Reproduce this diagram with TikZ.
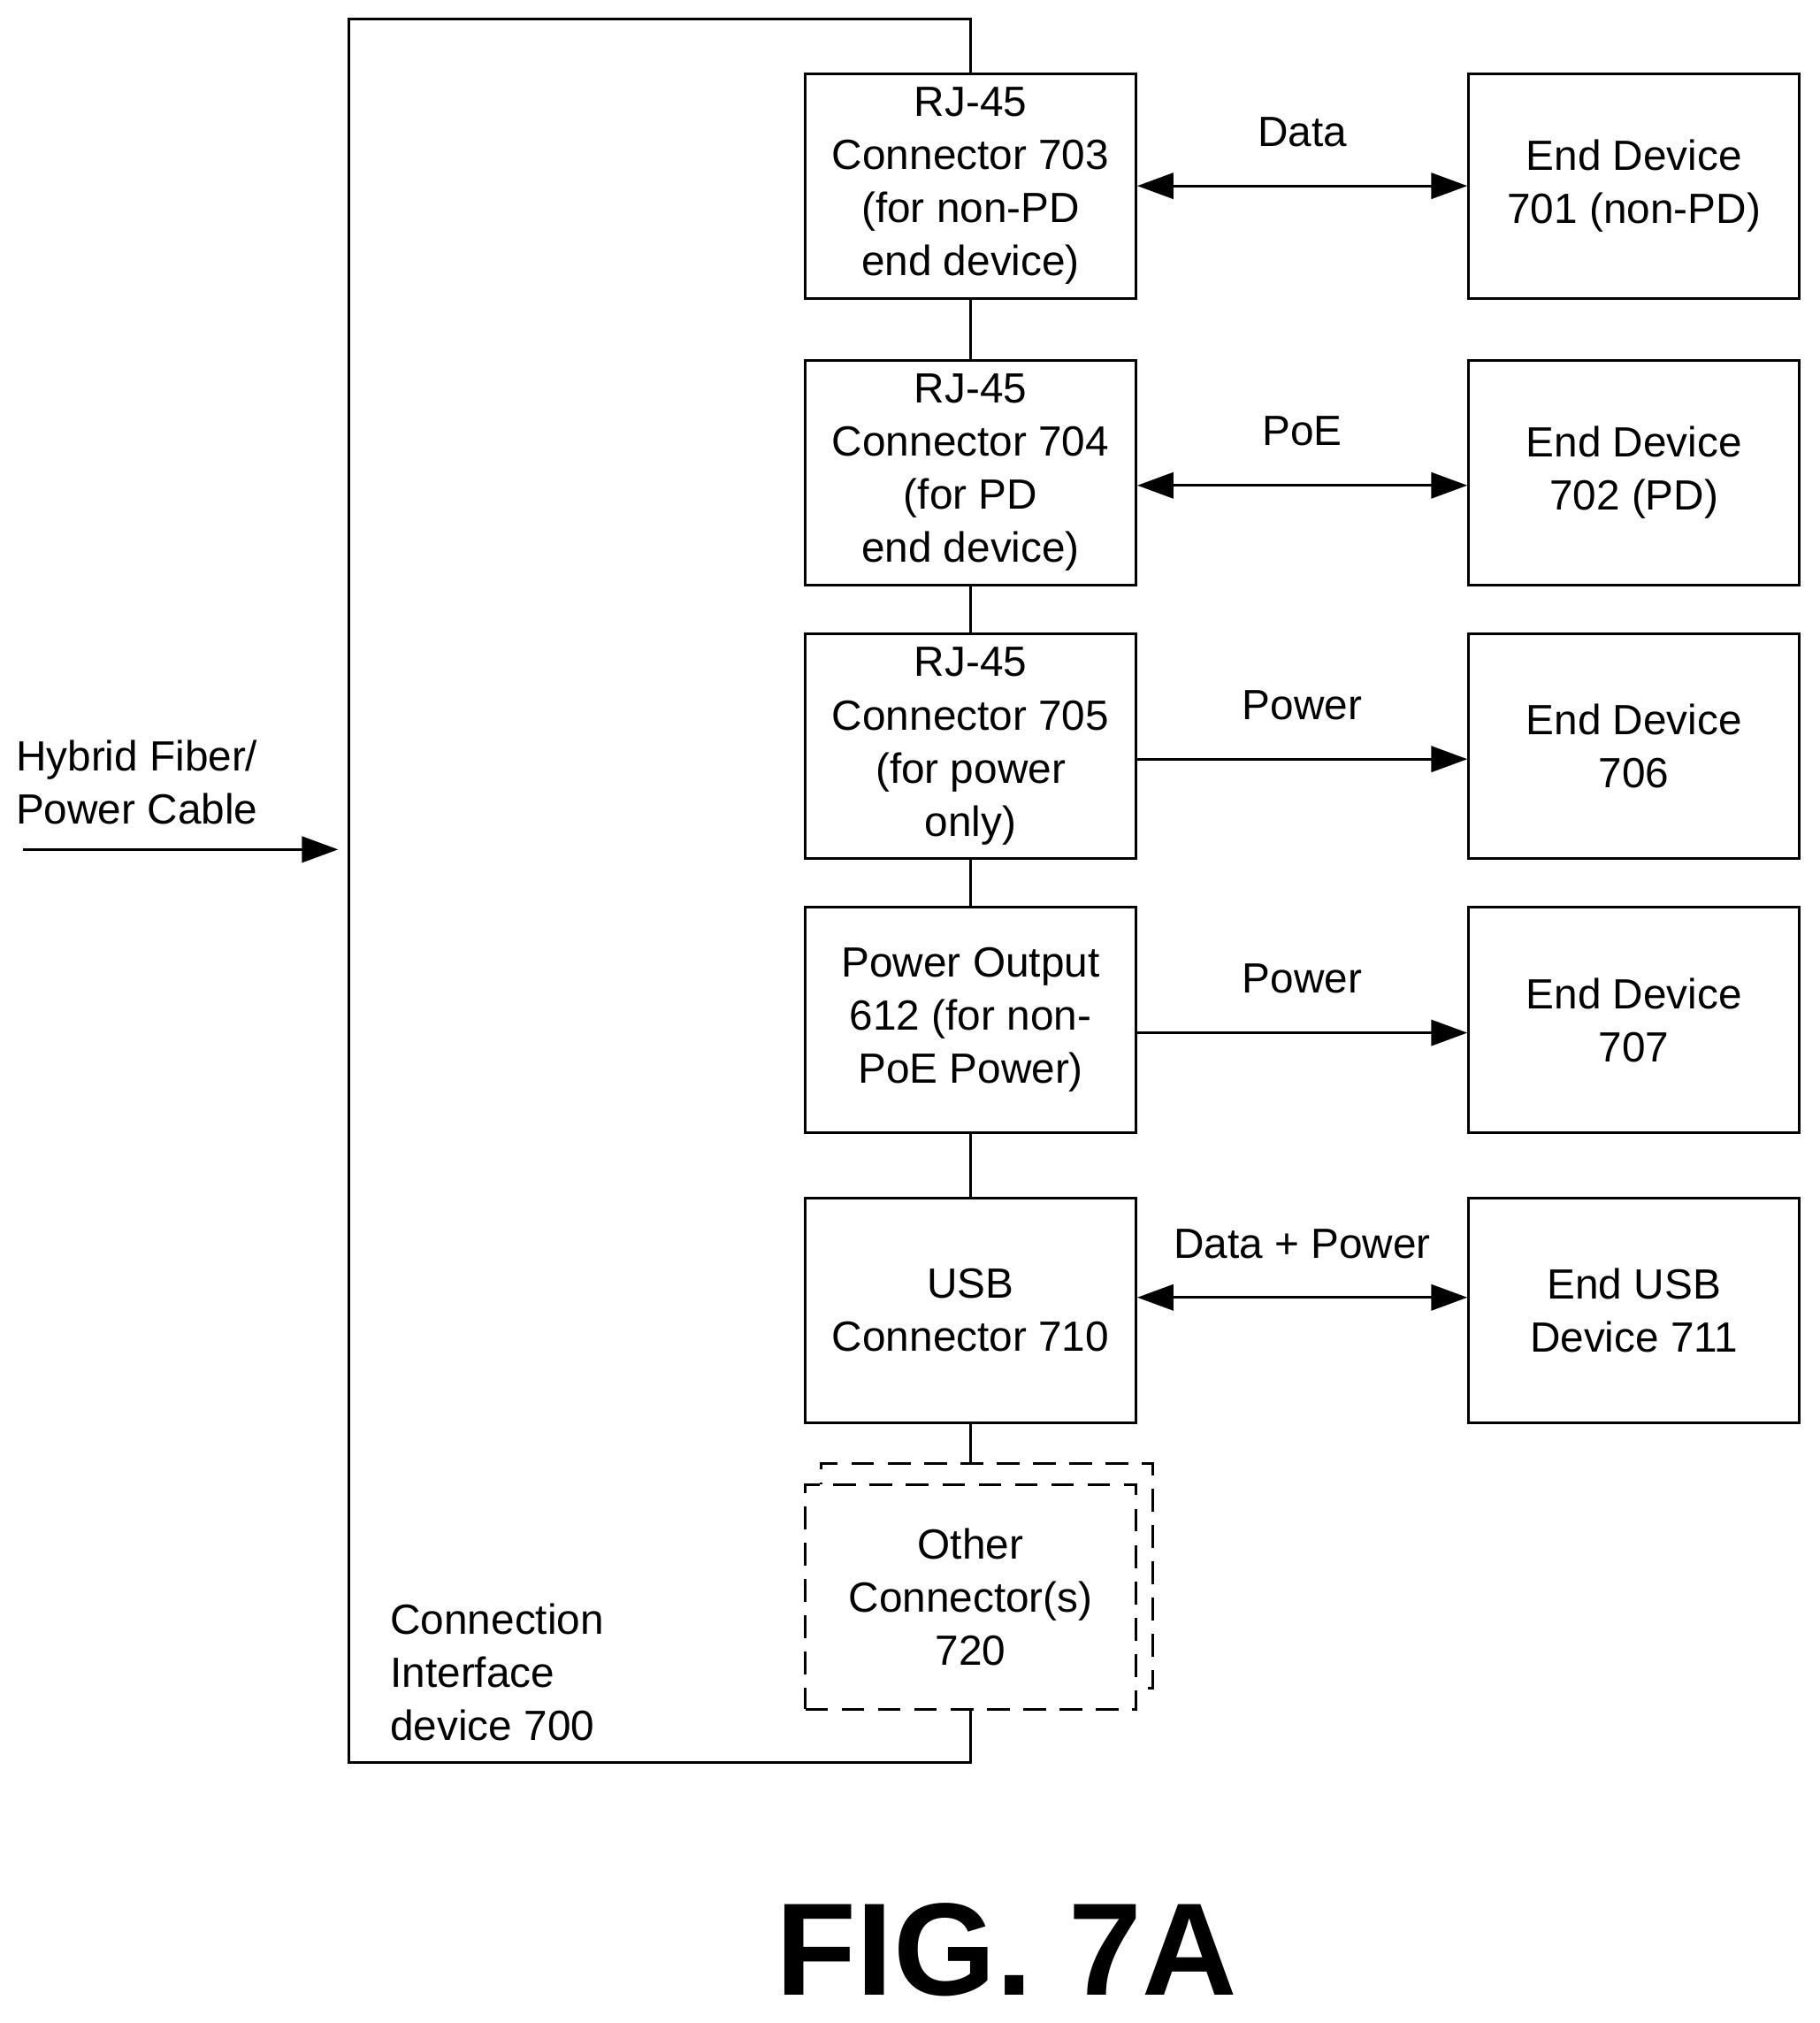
\documentclass[tikz,border=0pt]{standalone}
\usepackage{fontspec}
\setmainfont{Liberation Sans}
\usetikzlibrary{arrows.meta, positioning, calc}

\begin{document}
\begin{tikzpicture}[
    x=0.01cm, y=-0.01cm,
    every node/.style={font=\fontsize{9.3}{11.7}\selectfont, align=center},
    blk/.style={draw, line width=0.6pt, minimum width=2.56cm, minimum height=1.74cm, inner sep=1pt},
    dblk/.style={blk, dashed, dash pattern=on 5pt off 3pt},
    arrow/.style={-{Triangle[length=2.8mm, width=2mm]}, line width=0.6pt},
    darrow/.style={{Triangle[length=2.8mm, width=2mm]}-{Triangle[length=2.8mm, width=2mm]}, line width=0.6pt},
    wire/.style={line width=0.6pt}
]
\useasboundingbox (0,0) rectangle (1410,1567);

% === CONNECTOR COLUMN ===
\node[blk] (con703) at (752,144) {RJ-45\\Connector 703\\(for non-PD\\end device)};
\node[blk] (con704) at (752,366) {RJ-45\\Connector 704\\(for PD\\end device)};
\node[blk] (con705) at (752,578) {RJ-45\\Connector 705\\(for power\\only)};
\node[blk] (out612) at (752,790) {Power Output\\612 (for non-\\PoE Power)};
\node[blk] (usb710) at (752,1015) {USB\\Connector 710};
\node[dblk, minimum width=2.57cm] (shadow720) at (764.5,1220.5) {};
\node[dblk, fill=white] (oth720) at (752,1237) {Other\\Connector(s)\\720};

% === END DEVICES ===
\node[blk] (dev701) at (1266,144) {End Device\\701 (non-PD)};
\node[blk] (dev702) at (1266,366) {End Device\\702 (PD)};
\node[blk] (dev706) at (1266,578) {End Device\\706};
\node[blk] (dev707) at (1266,790) {End Device\\707};
\node[blk] (dev711) at (1266,1015) {End USB\\Device 711};

% === ENCLOSURE ===
\coordinate (encTR) at (752,15);
\coordinate (encBR) at (752,1365);
\draw[wire] (con703.north) -- (encTR) -- (270,15) -- (270,1365) -- (encBR) -- (oth720.south);
\draw[wire] (con703) -- (con704);
\draw[wire] (con704) -- (con705);
\draw[wire] (con705) -- (out612);
\draw[wire] (out612) -- (usb710);
\draw[wire] (usb710.south) -- (752,1133);

% === LINKS ===
\draw[darrow] (con703) -- node[above=5pt] {Data} (dev701);
\draw[darrow] (con704.east) ++(0,10) coordinate (poeA) -- node[above=5pt] {PoE} (dev702.west |- poeA);
\draw[arrow] (con705.east) ++(0,10) coordinate (pwrA) -- node[above=5pt] {Power} (dev706.west |- pwrA);
\draw[arrow] (out612.east) ++(0,10) coordinate (pwrB) -- node[above=5pt] {Power} (dev707.west |- pwrB);
\draw[darrow] (usb710.east) ++(0,-10) coordinate (usbA) -- node[above=5pt] {Data + Power} (dev711.west |- usbA);

% === INPUT CABLE ===
\coordinate (cabEnd) at (262,658);
\draw[arrow] (18,658) -- (cabEnd);
\node[align=left, anchor=west] (cable) at (0,606) {Hybrid Fiber/\\Power Cable};

% === LABELS ===
\node[align=left, anchor=west] (enclbl) at (290,1295) {Connection\\Interface\\device 700};
\node[font=\fontsize{29}{29}\selectfont\bfseries] (fig) at (780,1510) {FIG. 7A};

\end{tikzpicture}
\end{document}
